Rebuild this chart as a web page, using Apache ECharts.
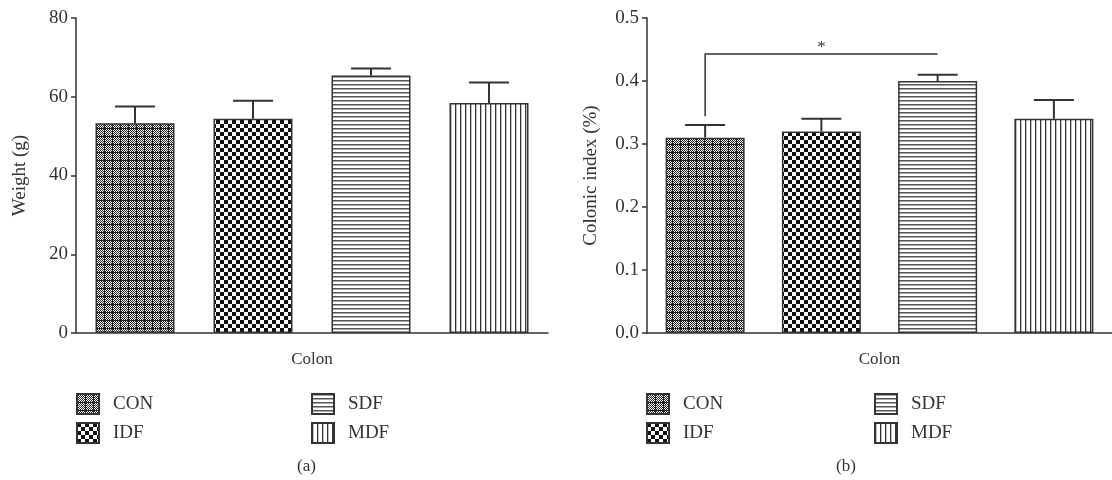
<!DOCTYPE html>
<html>
<head>
<meta charset="utf-8">
<script src="https://cdn.jsdelivr.net/npm/echarts@6/dist/echarts.min.js"></script>
<style>
  html, body { margin: 0; padding: 0; background: #fff; }
  #main { width: 1112px; height: 480px; }
</style>
</head>
<body>
<div id="main"></div>
<script>
// data
var groups = ['CON', 'IDF', 'SDF', 'MDF'];
var weightMean = [53.3, 54.4, 65.4, 58.4];
var weightErr = [57.5, 59.0, 67.2, 63.6];
var indexMean = [0.31, 0.32, 0.40, 0.34];
var indexErr = [0.33, 0.34, 0.41, 0.37];
var weightTicks = [0, 80, 20];
var indexTicks = [0, 0.5, 0.1];
// significance: from CON to SDF
var sigPair = [0, 2, 0.344, 0.443];

var FONT = '"Liberation Serif", "DejaVu Serif", serif';
var INK = '#333';

function tile(w, h, draw) {
    var c = document.createElement('canvas');
    c.width = w; c.height = h;
    var ctx = c.getContext('2d');
    ctx.fillStyle = '#fff';
    ctx.fillRect(0, 0, w, h);
    draw(ctx);
    return {image: c, repeat: 'repeat'};
}

// fill patterns like the original print
var patterns = {
    CON: tile(8, 8, function (ctx) {
        ctx.fillStyle = '#222';
        for (var y = 0; y < 8; y++) {
            for (var x = 0; x < 8; x++) {
                if ((x + y) % 2 == 0) ctx.fillRect(x, y, 1, 1);
            }
        }
        ctx.fillRect(0, 0, 8, 1);
        ctx.fillRect(0, 0, 1, 8);
    }),
    IDF: tile(8, 8, function (ctx) {
        ctx.fillStyle = '#111';
        ctx.fillRect(0, 0, 4, 4);
        ctx.fillRect(4, 4, 4, 4);
    }),
    SDF: tile(4, 4, function (ctx) {
        ctx.fillStyle = '#555';
        ctx.fillRect(0, 0, 4, 1.5);
    }),
    MDF: tile(5, 5, function (ctx) {
        ctx.fillStyle = '#333';
        ctx.fillRect(0, 0, 1.3, 5);
    })
};

function barSeries(means, axisIdx) {
    return groups.map(function (g, i) {
        var d = means.map(function (v, j) { return j == i ? v : '-'; });
        return {
            name: g,
            type: 'bar',
            stack: 'all' + axisIdx,
            xAxisIndex: axisIdx,
            yAxisIndex: axisIdx,
            barWidth: 79,
            data: d,
            itemStyle: {color: patterns[g], borderColor: INK, borderWidth: 1.5},
            emphasis: {disabled: true}
        };
    });
}

function renderErr(params, api) {
    var base = api.coord([api.value(0), api.value(1)]);
    var top = api.coord([api.value(0), api.value(2)]);
    var half = 20;
    var st = {stroke: INK, lineWidth: 2};
    return {
        type: 'group',
        children: [
            {type: 'line', shape: {x1: base[0], y1: base[1], x2: top[0], y2: top[1]}, style: st},
            {type: 'line', shape: {x1: top[0] - half, y1: top[1], x2: top[0] + half, y2: top[1]}, style: st}
        ]
    };
}

function errSeries(means, errs, axisIdx) {
    return {
        type: 'custom',
        xAxisIndex: axisIdx,
        yAxisIndex: axisIdx,
        z: 5,
        renderItem: renderErr,
        data: means.map(function (m, i) { return [i, m, errs[i]]; })
    };
}

function renderSig(params, api) {
    var a = api.coord([api.value(0), api.value(2)]);
    var b = api.coord([api.value(0), api.value(3)]);
    var c = api.coord([api.value(1), api.value(3)]);
    return {
        type: 'group',
        children: [
            {type: 'polyline', shape: {points: [a, b, c]}, style: {stroke: INK, lineWidth: 1.5, fill: null}},
            {type: 'text', x: (b[0] + c[0]) / 2, y: b[1] + 2,
             style: {text: '*', font: '17px ' + FONT, fill: INK, align: 'center', verticalAlign: 'bottom'}}
        ]
    };
}

function xAx(gridIdx) {
    return {
        type: 'category', gridIndex: gridIdx, data: groups,
        name: 'Colon', nameLocation: 'middle', nameGap: 18,
        nameTextStyle: {fontFamily: FONT, fontSize: 17, color: INK},
        axisLine: {lineStyle: {color: INK, width: 1.5}},
        axisTick: {show: false},
        axisLabel: {show: false}
    };
}

function yAx(gridIdx, ticks, name, fmt, gap) {
    return {
        type: 'value', gridIndex: gridIdx,
        min: ticks[0], max: ticks[1], interval: ticks[2],
        name: name, nameLocation: 'middle', nameGap: gap,
        nameTextStyle: {fontFamily: FONT, fontSize: 19, color: INK},
        axisLine: {show: true, lineStyle: {color: INK, width: 1.5}},
        axisTick: {show: true, length: 5, lineStyle: {color: INK, width: 1.5}},
        axisLabel: {fontFamily: FONT, fontSize: 19, color: INK, margin: 8, formatter: fmt},
        splitLine: {show: false}
    };
}

function legendCol(names, left) {
    return {
        data: names, left: left, top: 393, orient: 'vertical', padding: 0,
        icon: 'rect', itemWidth: 22, itemHeight: 20, itemGap: 7,
        selectedMode: false,
        textStyle: {fontFamily: FONT, fontSize: 19, color: INK, padding: [0, 0, 0, 9]}
    };
}

var chart = echarts.init(document.getElementById('main'));
chart.setOption({
    animation: false,
    grid: [
        {left: 76, top: 18, width: 472, height: 315},
        {left: 647, top: 18, width: 474, height: 315}
    ],
    xAxis: [xAx(0), xAx(1)],
    yAxis: [
        yAx(0, weightTicks, 'Weight (g)', function (v) { return v; }, 46),
        yAx(1, indexTicks, 'Colonic index (%)', function (v) { return v.toFixed(1); }, 46)
    ],
    legend: [
        legendCol(['CON', 'IDF'], 76),
        legendCol(['SDF', 'MDF'], 311),
        legendCol(['CON', 'IDF'], 646),
        legendCol(['SDF', 'MDF'], 874)
    ],
    graphic: [
        {type: 'text', left: 297, top: 458, style: {text: '(a)', font: '17px ' + FONT, fill: INK}},
        {type: 'text', left: 836, top: 458, style: {text: '(b)', font: '17px ' + FONT, fill: INK}}
    ],
    series: barSeries(weightMean, 0)
        .concat(barSeries(indexMean, 1))
        .concat([
            errSeries(weightMean, weightErr, 0),
            errSeries(indexMean, indexErr, 1),
            {
                type: 'custom', xAxisIndex: 1, yAxisIndex: 1, z: 5,
                renderItem: renderSig, data: [sigPair]
            }
        ])
});
</script>
</body>
</html>
